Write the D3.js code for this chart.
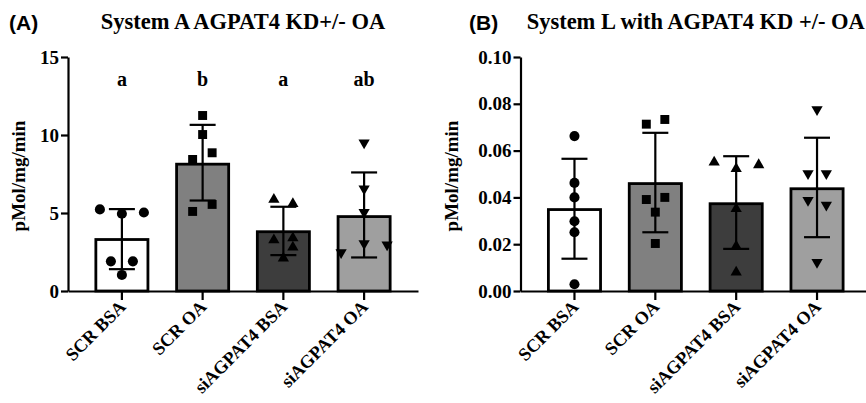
<!DOCTYPE html>
<html>
<head>
<meta charset="utf-8">
<script src="https://cdn.jsdelivr.net/npm/d3@7"></script>
<style>
  body { margin: 0; background: #fff; }
  svg { font-family: 'Liberation Serif', 'Times New Roman', serif; }
  svg text { font-family: 'Liberation Serif', 'Times New Roman', serif; font-weight: bold; fill: #000; }
</style>
</head>
<body>
<svg id="chart" width="866" height="403"></svg>
<script>
'use strict';

var groups = ['SCR BSA', 'SCR OA', 'siAGPAT4 BSA', 'siAGPAT4 OA'];
var fills = ['#ffffff', '#808080', '#3d3d3d', '#9f9f9f'];
var shapes = ['circle', 'square', 'triangle', 'triangleDown'];

// panel A : System A
var meansA = [3.3, 8.13, 3.8, 4.77];
var sdLowA = [1.4, 5.8, 2.3, 2.15];
var sdHighA = [5.25, 10.65, 5.4, 7.6];
var pointsA = [
  [5.23, 4.95, 5.03, 1.9, 1.9, 1.03],
  [11.25, 10.03, 8.43, 8.86, 5.1, 5.55],
  [5.87, 5.6, 3.27, 3.4, 2.8, 2.1],
  [9.5, 6.56, 5.05, 3.05, 2.47, 2.97]
];
// horizontal slot of each point, in marker widths
var slotsA = [
  [-2.2, 0, 2.2, -1.1, 1.1, 0],
  [0, 0, -1, 0.95, -1, 0.95],
  [-0.95, 0.95, -0.95, 0.95, 0.95, 0],
  [0, 0, 0, 0, -2.3, 2.3]
];
var lettersA = ['a', 'b', 'a', 'ab'];
var ticksA = [0, 5, 10, 15];

// panel B : System L
var meansB = [0.0348, 0.0459, 0.0373, 0.0437];
var sdLowB = [0.0138, 0.0251, 0.018, 0.023];
var sdHighB = [0.0565, 0.0676, 0.0576, 0.0655];
var pointsB = [
  [0.0662, 0.0462, 0.040, 0.0298, 0.0251, 0.0029],
  [0.0713, 0.0733, 0.0391, 0.040, 0.0337, 0.0203],
  [0.055, 0.0522, 0.0539, 0.0351, 0.0191, 0.008],
  [0.0776, 0.0502, 0.0502, 0.0388, 0.0368, 0.0123]
];
var slotsB = [
  [0, 0, 0, 0, 0, 0],
  [-0.9, 0.95, -0.9, 0.95, 0, 0],
  [-2.2, 0, 2.25, 0, 0, 0],
  [0, -0.9, 0.93, -0.9, 0.93, 0]
];
var ticksB = [0, 0.02, 0.04, 0.06, 0.08, 0.10];

var svg = d3.select('#chart');

var SERIF = "'Liberation Serif', 'Times New Roman', serif";
var MARKER = 10;
var CAP = 13;

var symbolFor = function(name) {
  if (name === 'circle') return d3.symbol().type(d3.symbolCircle).size(80)();
  if (name === 'square') return d3.symbol().type(d3.symbolSquare).size(80)();
  return d3.symbol().type(d3.symbolTriangle).size(55)();
};

var serifText = function(sel, size) {
  sel.style('font-family', SERIF)
    .style('font-weight', 'bold')
    .style('font-size', size + 'px');
};

var drawPanel = function(opts) {
  var x = d3.scaleBand()
    .domain(groups)
    .range([opts.left, opts.right])
    .paddingInner(0.355)
    .paddingOuter(0.345);

  var y = d3.scaleLinear()
    .domain([0, opts.max])
    .range([opts.bottom, opts.top]);

  var g = svg.append('g');

  // bars
  g.selectAll('rect.bar')
    .data(opts.means)
    .enter()
    .append('rect')
    .attr('class', 'bar')
    .attr('x', function(d, i) { return x(groups[i]); })
    .attr('y', function(d) { return y(d); })
    .attr('width', x.bandwidth())
    .attr('height', function(d) { return y(0) - y(d); })
    .attr('fill', function(d, i) { return fills[i]; })
    .attr('stroke', '#000')
    .attr('stroke-width', 2.8);

  // error bars (SD)
  var err = g.selectAll('g.err')
    .data(opts.means)
    .enter()
    .append('g')
    .attr('class', 'err')
    .attr('transform', function(d, i) {
      return 'translate(' + (x(groups[i]) + x.bandwidth() / 2) + ',0)';
    });

  err.append('line')
    .attr('y1', function(d, i) { return y(opts.high[i]); })
    .attr('y2', function(d, i) { return y(opts.low[i]); });
  err.append('line')
    .attr('x1', -CAP).attr('x2', CAP)
    .attr('y1', function(d, i) { return y(opts.high[i]); })
    .attr('y2', function(d, i) { return y(opts.high[i]); });
  err.append('line')
    .attr('x1', -CAP).attr('x2', CAP)
    .attr('y1', function(d, i) { return y(opts.low[i]); })
    .attr('y2', function(d, i) { return y(opts.low[i]); });
  err.selectAll('line')
    .attr('stroke', '#000')
    .attr('stroke-width', 2.2);

  // individual points
  opts.points.forEach(function(vals, i) {
    var cx = x(groups[i]) + x.bandwidth() / 2;
    var shape = shapes[i];
    g.selectAll(null)
      .data(vals)
      .enter()
      .append('path')
      .attr('d', symbolFor(shape))
      .attr('fill', '#000')
      .attr('transform', function(d, j) {
        var t = 'translate(' + (cx + opts.slots[i][j] * MARKER) + ',' + y(d) + ')';
        return shape === 'triangleDown' ? t + ' rotate(180)' : t;
      });
  });

  // y axis
  var yAxis = g.append('g')
    .attr('transform', 'translate(' + opts.left + ',0)')
    .call(d3.axisLeft(y)
      .tickValues(opts.ticks)
      .tickFormat(opts.format)
      .tickSize(7)
      .tickSizeOuter(0)
      .tickPadding(2));

  // x axis
  var xAxis = g.append('g')
    .attr('transform', 'translate(0,' + opts.bottom + ')')
    .call(d3.axisBottom(x)
      .tickSize(9)
      .tickSizeOuter(0)
      .tickFormat(''));

  [yAxis, xAxis].forEach(function(axis) {
    axis.attr('font-family', null).attr('font-size', null);
    axis.selectAll('path, line')
      .attr('stroke', '#000')
      .attr('stroke-width', 2.2);
    axis.selectAll('text')
      .attr('fill', '#000')
      .call(serifText, 19);
  });

  // rotated category labels
  g.selectAll('text.cat')
    .data(groups)
    .enter()
    .append('text')
    .attr('class', 'cat')
    .attr('text-anchor', 'end')
    .call(serifText, 18.2)
    .attr('transform', function(d) {
      var cx = x(d) + x.bandwidth() / 2;
      return 'translate(' + (cx + 5) + ',' + (opts.bottom + 17) + ') rotate(-45)';
    })
    .text(function(d) { return d; });

  // axis title
  g.append('text')
    .attr('text-anchor', 'middle')
    .call(serifText, 19)
    .attr('transform', 'translate(' + opts.labelX + ',' + ((opts.top + opts.bottom) / 2 + 2) + ') rotate(-90)')
    .text('pMol/mg/min');

  // chart title
  g.append('text')
    .attr('text-anchor', 'middle')
    .attr('x', (opts.left + opts.right) / 2)
    .attr('y', 29)
    .call(serifText, 22.5)
    .text(opts.title);

  // panel tag
  g.append('text')
    .attr('x', opts.tagX)
    .attr('y', 30)
    .style('font-family', "'Liberation Sans', Arial, sans-serif")
    .style('font-weight', 'bold')
    .style('font-size', '21px')
    .text(opts.tag);

  // significance letters
  if (opts.letters) {
    g.selectAll('text.sig')
      .data(opts.letters)
      .enter()
      .append('text')
      .attr('class', 'sig')
      .attr('text-anchor', 'middle')
      .call(serifText, 20)
      .attr('x', function(d, i) { return x(groups[i]) + x.bandwidth() / 2; })
      .attr('y', 86)
      .text(function(d) { return d; });
  }
};

drawPanel({
  left: 68, right: 418, top: 57, bottom: 291,
  max: 15, ticks: ticksA, format: d3.format('d'),
  means: meansA, low: sdLowA, high: sdHighA,
  points: pointsA, slots: slotsA, letters: lettersA,
  title: 'System A AGPAT4 KD+/- OA', tag: '(A)', tagX: 9, labelX: 25
});

drawPanel({
  left: 520.5, right: 871, top: 57, bottom: 291,
  max: 0.10, ticks: ticksB, format: d3.format('.2f'),
  means: meansB, low: sdLowB, high: sdHighB,
  points: pointsB, slots: slotsB, letters: null,
  title: 'System L with AGPAT4 KD +/- OA', tag: '(B)', tagX: 469, labelX: 458
});
</script>
</body>
</html>
